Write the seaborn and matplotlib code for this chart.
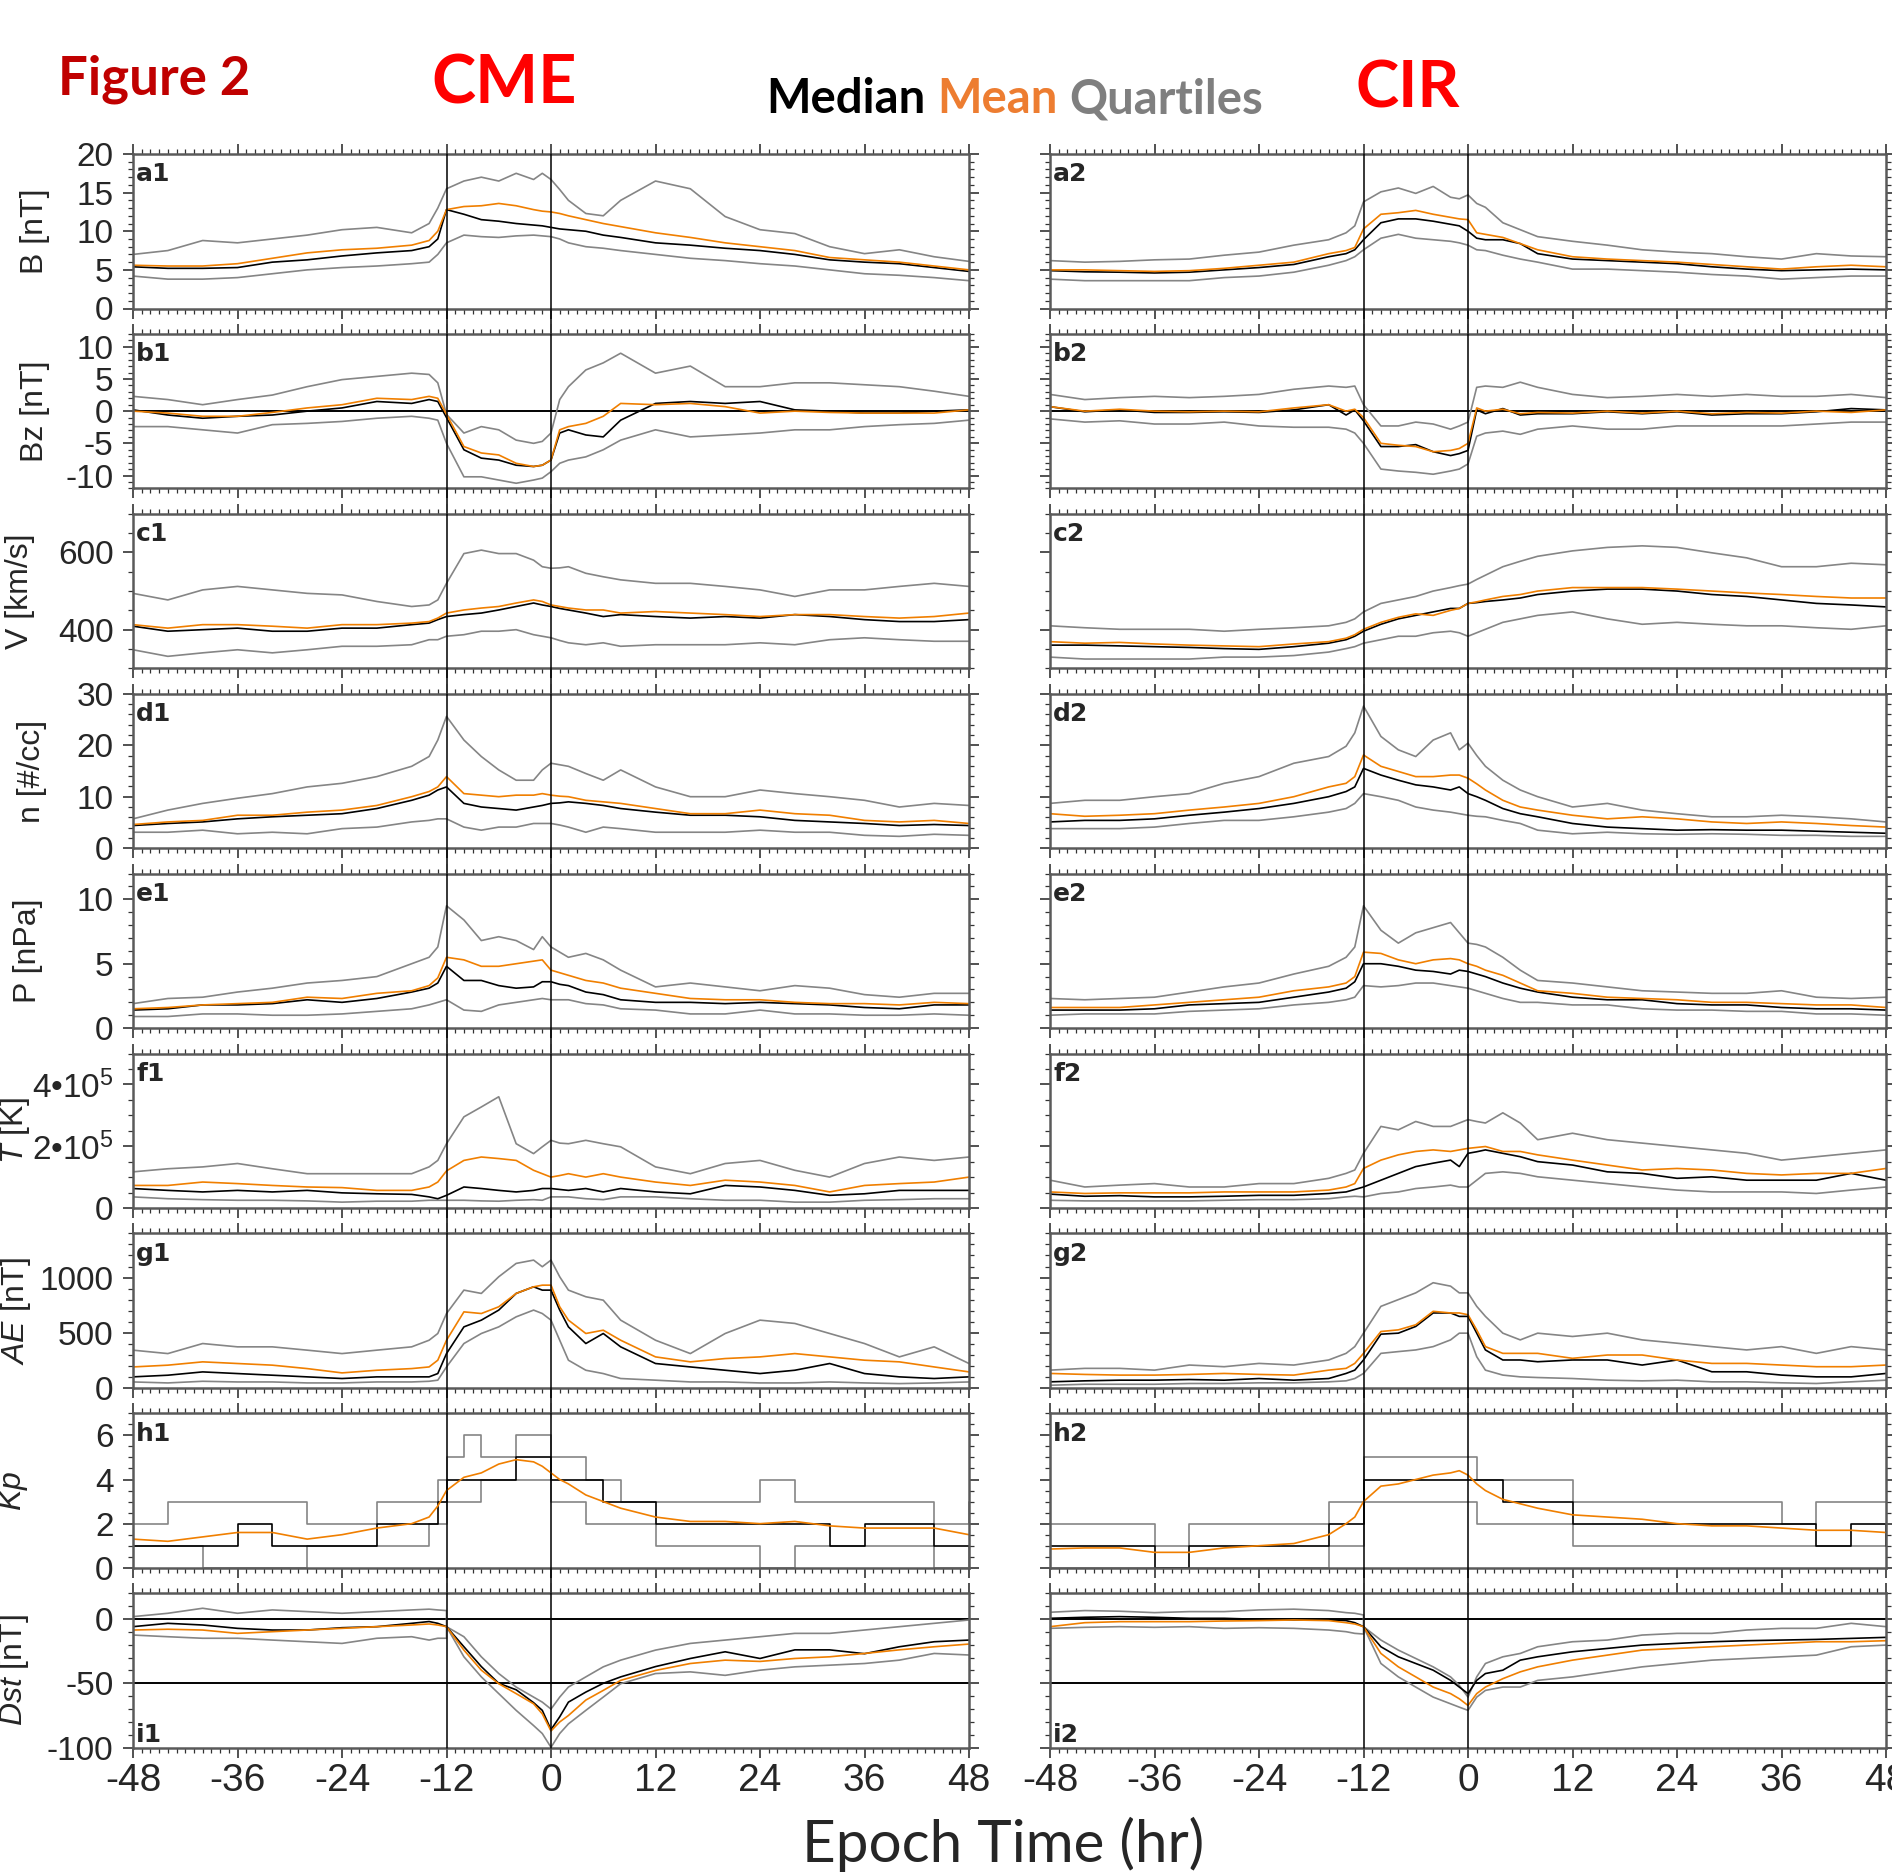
import numpy as np
import pandas as pd
import matplotlib
matplotlib.use("Agg")
import matplotlib.pyplot as plt
from matplotlib.ticker import MultipleLocator
import seaborn as sns

# epoch hours (Dst has -12 twice: quartiles restart at the shock)
hours = [-48, -44, -40, -36, -32, -28, -24, -20, -16, -14, -13, -12, -10, -8, -6, -4, -2, -1,
         0, 1, 2, 4, 6, 8, 12, 16, 20, 24, 28, 32, 36, 40, 44, 48]
hours_dst = [-48, -44, -40, -36, -32, -28, -24, -20, -16, -14, -13, -12, -12, -10, -8, -6, -4, -2, -1,
             0, 1, 2, 4, 6, 8, 12, 16, 20, 24, 28, 32, 36, 40, 44, 48]

# ---- CME column ----
b_cme_med = [5.4, 5.2, 5.2, 5.3, 6.0, 6.3, 6.8, 7.2, 7.5, 8.0, 9.0, 12.8, 12.2, 11.5, 11.3, 11.0, 10.8, 10.7,
             10.5, 10.3, 10.2, 10.0, 9.5, 9.2, 8.5, 8.2, 7.8, 7.5, 7.0, 6.3, 6.0, 5.8, 5.3, 4.8]
b_cme_mean = [5.6, 5.5, 5.5, 5.8, 6.5, 7.2, 7.6, 7.8, 8.2, 8.8, 10.0, 12.8, 13.2, 13.3, 13.6, 13.3, 12.8, 12.6,
              12.5, 12.3, 12.0, 11.5, 11.0, 10.6, 9.8, 9.2, 8.5, 8.0, 7.5, 6.6, 6.3, 6.0, 5.5, 5.0]
b_cme_uq = [7.0, 7.5, 8.8, 8.5, 9.0, 9.5, 10.2, 10.5, 9.8, 11.0, 13.0, 15.5, 16.5, 17.0, 16.5, 17.5, 16.7, 17.5,
            16.7, 15.4, 14.0, 12.3, 12.0, 14.0, 16.5, 15.5, 11.9, 10.2, 9.7, 8.0, 7.1, 7.6, 6.7, 6.1]
b_cme_lq = [4.2, 3.8, 3.8, 4.0, 4.5, 5.0, 5.3, 5.5, 5.8, 6.0, 7.0, 8.5, 9.5, 9.3, 9.2, 9.4, 9.5, 9.4,
            9.3, 9.0, 8.5, 8.0, 7.8, 7.5, 7.0, 6.5, 6.2, 5.8, 5.5, 5.0, 4.5, 4.3, 4.0, 3.6]

bz_cme_med = [0.2, -0.6, -1.1, -0.8, -0.6, 0.0, 0.5, 1.5, 1.2, 1.8, 1.5, -1.0, -6.0, -7.3, -7.6, -8.4, -8.6, -8.4,
              -7.6, -3.4, -2.9, -3.7, -4.0, -1.4, 1.2, 1.5, 1.2, 1.5, 0.2, 0.0, -0.3, -0.3, 0.0, 0.2]
bz_cme_mean = [0.0, -0.3, -0.8, -0.8, -0.2, 0.5, 1.0, 2.0, 1.8, 2.3, 2.0, -0.5, -5.5, -6.5, -6.8, -8.1, -8.6, -8.4,
               -7.6, -2.9, -2.4, -1.9, -0.8, 1.2, 1.0, 1.2, 0.7, -0.3, 0.0, -0.2, -0.3, -0.3, -0.3, 0.2]
bz_cme_uq = [2.3, 1.8, 1.0, 1.8, 2.5, 3.8, 4.9, 5.4, 5.9, 5.7, 4.4, -0.5, -3.4, -2.4, -2.9, -4.5, -5.0, -4.7,
             -3.4, 1.8, 3.8, 6.4, 7.5, 9.0, 5.9, 7.0, 3.8, 3.8, 4.4, 4.4, 4.1, 3.8, 3.1, 2.3]
bz_cme_lq = [-2.4, -2.4, -2.9, -3.4, -2.1, -1.9, -1.6, -1.1, -0.8, -1.1, -1.4, -5.0, -10.2, -10.2, -10.7, -11.2, -10.7, -10.4,
             -9.4, -8.1, -7.6, -7.1, -6.0, -4.5, -2.9, -4.0, -3.7, -3.4, -2.9, -2.9, -2.4, -2.1, -1.9, -1.4]

v_cme_med = [409, 396, 400, 404, 396, 396, 404, 404, 413, 417, 426, 434, 439, 443, 451, 460, 469, 464,
             460, 455, 451, 443, 434, 439, 434, 430, 434, 430, 439, 434, 426, 421, 421, 426]
v_cme_mean = [413, 404, 413, 413, 409, 404, 413, 413, 417, 421, 430, 443, 451, 456, 460, 469, 477, 473,
              464, 460, 456, 451, 451, 443, 447, 443, 439, 434, 439, 439, 434, 430, 434, 443]
v_cme_uq = [494, 477, 503, 512, 503, 494, 490, 473, 460, 464, 477, 520, 597, 606, 597, 597, 580, 563,
            559, 560, 563, 546, 537, 529, 520, 520, 512, 503, 486, 503, 503, 512, 520, 512]
v_cme_lq = [348, 331, 340, 348, 340, 348, 357, 357, 361, 374, 374, 383, 387, 396, 396, 400, 387, 383,
            379, 372, 366, 361, 366, 357, 361, 361, 361, 366, 361, 374, 379, 374, 370, 370]

n_cme_med = [4.4, 4.8, 5.1, 5.7, 6.1, 6.4, 6.7, 7.7, 9.3, 10.3, 11.3, 11.9, 8.7, 8.0, 7.7, 7.4, 8.0, 8.3,
             8.7, 8.8, 9.0, 8.7, 8.3, 7.7, 7.0, 6.4, 6.4, 6.1, 5.4, 5.1, 4.8, 4.4, 4.6, 4.4]
n_cme_mean = [4.6, 5.1, 5.4, 6.4, 6.4, 7.0, 7.4, 8.3, 10.0, 11.0, 11.9, 13.9, 10.6, 10.3, 10.0, 10.3, 10.3, 10.6,
              10.3, 10.1, 10.0, 9.3, 9.0, 8.7, 7.7, 6.7, 6.7, 7.4, 6.7, 6.4, 5.4, 5.1, 5.4, 4.8]
n_cme_uq = [5.7, 7.4, 8.7, 9.7, 10.6, 11.9, 12.6, 13.9, 15.9, 17.8, 21.0, 25.6, 21.0, 17.8, 15.2, 13.2, 13.2, 15.2,
            16.5, 16.2, 15.9, 14.5, 13.2, 15.2, 11.9, 10.0, 10.0, 11.3, 10.6, 10.0, 9.3, 8.0, 8.7, 8.3]
n_cme_lq = [3.1, 3.1, 3.5, 2.8, 3.1, 2.8, 3.8, 4.1, 5.1, 5.4, 5.7, 5.7, 4.1, 3.5, 4.1, 4.1, 4.8, 4.8,
            4.8, 4.5, 4.1, 3.1, 4.1, 3.8, 3.1, 3.1, 3.1, 3.5, 3.1, 3.1, 2.5, 2.3, 2.7, 2.5]

p_cme_med = [1.4, 1.5, 1.8, 1.8, 1.9, 2.2, 2.0, 2.3, 2.8, 3.1, 3.5, 4.8, 3.7, 3.7, 3.3, 3.1, 3.2, 3.6,
             3.6, 3.4, 3.3, 2.8, 2.6, 2.2, 2.0, 2.0, 1.9, 2.0, 1.9, 1.8, 1.6, 1.5, 1.8, 1.8]
p_cme_mean = [1.5, 1.6, 1.8, 1.9, 2.0, 2.4, 2.3, 2.7, 2.9, 3.3, 3.9, 5.5, 5.3, 4.8, 4.8, 5.0, 5.2, 5.3,
              4.5, 4.3, 4.1, 3.7, 3.5, 3.1, 2.7, 2.3, 2.2, 2.2, 2.0, 1.9, 1.9, 1.8, 2.0, 1.9]
p_cme_uq = [1.9, 2.3, 2.4, 2.8, 3.1, 3.5, 3.7, 4.0, 5.0, 5.5, 6.3, 9.5, 8.4, 6.8, 7.1, 6.8, 6.1, 7.1,
            6.3, 5.9, 5.5, 5.8, 5.3, 4.5, 3.2, 3.5, 3.2, 2.9, 3.3, 3.1, 2.6, 2.4, 2.7, 2.7]
p_cme_lq = [0.9, 0.9, 1.1, 1.1, 1.0, 1.0, 1.1, 1.3, 1.5, 1.8, 2.0, 2.2, 1.4, 1.3, 1.8, 2.0, 2.2, 2.3,
            2.2, 2.2, 2.2, 1.9, 1.8, 1.5, 1.4, 1.1, 1.1, 1.4, 1.1, 1.1, 1.0, 1.0, 1.1, 1.0]

# temperature in units of 1e5 K
t_cme_med = [0.63, 0.57, 0.52, 0.57, 0.52, 0.57, 0.49, 0.46, 0.44, 0.36, 0.30, 0.41, 0.68, 0.63, 0.57, 0.52, 0.57, 0.63,
             0.63, 0.60, 0.57, 0.63, 0.52, 0.63, 0.52, 0.46, 0.73, 0.68, 0.57, 0.41, 0.46, 0.57, 0.57, 0.57]
t_cme_mean = [0.73, 0.73, 0.84, 0.79, 0.73, 0.68, 0.66, 0.57, 0.57, 0.68, 0.84, 1.20, 1.54, 1.65, 1.60, 1.54, 1.22, 1.11,
              1.00, 1.05, 1.11, 1.00, 1.11, 1.00, 0.84, 0.73, 0.90, 0.84, 0.73, 0.52, 0.73, 0.79, 0.84, 1.00]
t_cme_uq = [1.17, 1.27, 1.33, 1.44, 1.27, 1.11, 1.11, 1.11, 1.11, 1.33, 1.54, 2.08, 2.95, 3.27, 3.60, 2.08, 1.76, 1.98,
            2.19, 2.10, 2.08, 2.19, 2.08, 1.98, 1.33, 1.11, 1.44, 1.54, 1.22, 1.00, 1.44, 1.65, 1.54, 1.65]
t_cme_lq = [0.36, 0.30, 0.27, 0.25, 0.25, 0.23, 0.19, 0.22, 0.22, 0.25, 0.25, 0.25, 0.25, 0.23, 0.22, 0.25, 0.27, 0.25,
            0.36, 0.36, 0.36, 0.30, 0.27, 0.36, 0.36, 0.30, 0.25, 0.25, 0.19, 0.19, 0.25, 0.27, 0.30, 0.30]

ae_cme_med = [100, 115, 145, 130, 115, 100, 85, 100, 100, 100, 130, 311, 553, 614, 705, 856, 916, 886,
              886, 705, 553, 402, 493, 372, 221, 190, 160, 130, 160, 221, 130, 100, 85, 100]
ae_cme_mean = [190, 206, 236, 221, 206, 175, 136, 160, 175, 190, 251, 432, 689, 674, 735, 856, 916, 931,
               931, 735, 614, 493, 523, 432, 281, 236, 266, 281, 311, 281, 251, 236, 190, 145]
ae_cme_uq = [342, 311, 402, 372, 372, 342, 311, 342, 372, 432, 493, 674, 886, 856, 1007, 1128, 1158, 1098,
             1158, 1007, 886, 826, 795, 614, 432, 311, 493, 614, 584, 493, 402, 281, 372, 221]
ae_cme_lq = [54, 45, 60, 54, 54, 45, 45, 54, 54, 60, 70, 190, 402, 493, 553, 644, 705, 674,
             614, 432, 251, 160, 130, 85, 70, 54, 54, 45, 45, 54, 45, 39, 45, 54]

kp_cme_med = [1, 1, 1, 2, 1, 1, 1, 2, 2, 2, 3, 4, 4, 4, 4, 5, 5, 5, 4, 4, 4, 4, 3, 3, 2, 2, 2, 2, 2, 1, 2, 2, 1, 1]
kp_cme_mean = [1.3, 1.2, 1.4, 1.6, 1.6, 1.3, 1.5, 1.8, 2.0, 2.3, 2.8, 3.5, 4.1, 4.3, 4.7, 4.9, 4.8, 4.6,
               4.3, 4.0, 3.8, 3.3, 3.0, 2.7, 2.3, 2.1, 2.1, 2.0, 2.1, 1.9, 1.8, 1.8, 1.8, 1.5]
kp_cme_uq = [2, 3, 3, 3, 3, 2, 2, 3, 3, 3, 4, 5, 6, 5, 5, 6, 6, 6, 5, 5, 5, 4, 4, 3, 3, 3, 3, 4, 3, 3, 3, 3, 2, 3]
kp_cme_lq = [1, 1, 0, 0, 0, 1, 1, 1, 1, 2, 2, 3, 3, 4, 4, 4, 4, 4, 3, 3, 3, 2, 2, 2, 1, 1, 1, 0, 1, 1, 1, 1, 0, 1]

dst_cme_med = [-6, -3.4, -4.7, -7.3, -8.6, -8.6, -6.8, -6, -3.4, -2, -3.4, -6, -6, -21.6, -37, -50, -55, -65, -71,
               -86, -76, -64.6, -56.8, -50, -45, -37, -30.7, -25.5, -30.7, -24, -24, -27, -21.6, -17.7, -16.4]
dst_cme_mean = [-8.6, -8, -8.6, -11.2, -9.9, -8.6, -7.3, -6, -4.7, -3.9, -4.7, -6, -6, -24.2, -39.8, -50.3, -58, -65.9, -73.7,
                -87, -80, -75, -63, -55.5, -47.7, -40, -34.6, -32, -33, -30.7, -29.4, -26.8, -24, -21.6, -19.5]
dst_cme_uq = [1.8, 4.4, 8.3, 4.4, 7, 5.7, 4.4, 5.7, 7, 7.6, 7, 6.5, -6, -13.8, -29.4, -42.4, -52.9, -60.7, -64.6,
              -70, -60.7, -52.9, -45, -37.2, -32, -24.2, -19, -16.4, -13.8, -11.2, -11.2, -8.6, -6, -3.4, -0.8]
dst_cme_lq = [-12.5, -13.8, -15, -15, -16.4, -17.7, -19, -15, -13.8, -16.4, -15, -15, -6, -29.4, -45, -58, -71, -82.8, -89,
              -99.7, -89, -81.5, -71, -60.7, -50.3, -42.4, -41.1, -43.8, -39.8, -37.2, -35.9, -34.6, -32, -26.8, -28]

# ---- CIR column ----
b_cir_med = [4.9, 4.75, 4.7, 4.6, 4.7, 5.0, 5.3, 5.7, 6.7, 7.1, 7.6, 8.9, 11.1, 11.6, 11.6, 11.3, 10.9, 10.7,
             10.0, 9.1, 8.9, 8.9, 8.4, 7.1, 6.4, 6.2, 6.0, 5.8, 5.4, 5.1, 4.9, 5.0, 5.1, 5.0]
b_cir_mean = [5.0, 5.0, 4.9, 4.8, 4.9, 5.2, 5.6, 6.0, 7.1, 7.5, 7.9, 10.3, 12.2, 12.4, 12.7, 12.2, 11.8, 11.6,
              11.5, 9.8, 9.6, 9.2, 8.4, 7.6, 6.7, 6.4, 6.2, 6.0, 5.7, 5.4, 5.1, 5.4, 5.6, 5.4]
b_cir_uq = [6.2, 6.0, 6.1, 6.3, 6.4, 6.9, 7.3, 8.2, 8.9, 9.8, 10.7, 13.8, 15.1, 15.6, 14.9, 15.8, 14.4, 14.2,
            14.7, 13.6, 13.1, 11.1, 10.2, 9.3, 8.7, 8.2, 7.6, 7.3, 7.1, 6.7, 6.4, 7.1, 6.8, 6.7]
b_cir_lq = [3.8, 3.6, 3.6, 3.6, 3.6, 4.0, 4.2, 4.7, 5.6, 6.2, 6.7, 7.6, 9.1, 9.6, 9.1, 8.9, 8.7, 8.5,
            8.2, 7.6, 7.5, 6.9, 6.4, 6.0, 5.1, 5.1, 4.9, 4.7, 4.4, 4.2, 3.8, 4.0, 4.2, 4.2]

bz_cir_med = [0.7, -0.1, 0.2, -0.2, -0.2, -0.1, -0.2, 0.2, 1.0, -0.6, 0.2, -1.5, -5.5, -5.5, -5.2, -6.3, -6.9, -6.6,
              -6.1, 0.2, -0.4, 0.4, -0.6, -0.4, -0.4, -0.1, -0.4, -0.1, -0.6, -0.4, -0.4, -0.1, 0.4, 0.2]
bz_cir_mean = [0.7, 0.0, 0.3, 0.0, -0.1, 0.0, -0.1, 0.5, 1.0, 0.0, 0.3, -1.0, -5.0, -5.3, -5.5, -6.3, -6.1, -5.8,
               -5.0, 0.5, 0.0, 0.3, -0.4, -0.2, -0.3, 0.0, -0.3, 0.0, -0.4, -0.2, -0.3, 0.0, -0.2, 0.2]
bz_cir_uq = [2.6, 1.8, 2.1, 2.3, 2.1, 2.3, 2.6, 3.4, 3.9, 3.7, 3.9, 1.0, -2.3, -2.3, -1.7, -2.0, -2.8, -2.3,
             -1.7, 3.7, 3.9, 3.7, 4.5, 3.7, 2.6, 2.1, 2.3, 2.6, 2.3, 2.6, 2.3, 2.3, 2.6, 2.1]
bz_cir_lq = [-1.2, -1.7, -1.5, -2.0, -2.0, -1.7, -2.3, -2.5, -2.5, -2.8, -3.4, -5.0, -9.0, -9.3, -9.5, -9.8, -9.3, -9.0,
             -8.2, -3.9, -3.4, -3.1, -3.6, -2.8, -2.3, -2.8, -2.8, -2.3, -2.3, -2.3, -2.3, -2.0, -1.7, -1.7]

v_cir_med = [360, 360, 358, 356, 354, 351, 349, 356, 365, 374, 383, 396, 414, 428, 437, 446, 455, 455,
             468, 470, 473, 477, 482, 491, 500, 505, 505, 500, 491, 486, 477, 468, 464, 459]
v_cir_mean = [369, 365, 367, 363, 360, 358, 356, 363, 369, 378, 387, 401, 419, 432, 441, 437, 450, 455,
              468, 472, 477, 486, 491, 500, 509, 509, 509, 505, 500, 495, 491, 486, 482, 482]
v_cir_uq = [410, 405, 401, 401, 401, 396, 401, 405, 410, 419, 428, 446, 468, 477, 486, 500, 509, 514,
            518, 530, 541, 563, 577, 590, 604, 613, 617, 613, 599, 586, 563, 563, 572, 568]
v_cir_lq = [329, 324, 324, 324, 324, 329, 329, 333, 342, 351, 356, 365, 374, 383, 383, 392, 396, 392,
            383, 392, 401, 419, 428, 437, 446, 428, 414, 419, 414, 410, 410, 405, 401, 410]

n_cir_med = [5.1, 5.4, 5.4, 5.7, 6.4, 7.0, 7.7, 8.7, 10.0, 11.0, 11.9, 15.5, 14.2, 13.2, 12.3, 11.9, 11.3, 11.9,
             10.6, 10.0, 9.3, 7.7, 6.7, 6.1, 4.8, 4.1, 3.8, 3.5, 3.6, 3.5, 3.5, 3.3, 3.1, 2.9]
n_cir_mean = [6.7, 6.2, 6.4, 6.7, 7.4, 8.0, 8.7, 10.0, 11.9, 12.6, 13.9, 18.1, 15.9, 14.9, 13.9, 13.9, 14.2, 14.2,
              13.6, 12.5, 11.3, 9.3, 8.0, 7.4, 6.4, 5.7, 6.1, 5.7, 5.1, 4.8, 5.1, 4.8, 4.4, 4.1]
n_cir_uq = [8.7, 9.3, 9.3, 10.0, 10.6, 12.6, 13.9, 16.5, 17.8, 19.8, 22.4, 27.6, 21.7, 19.1, 17.8, 21.0, 22.4, 19.1,
            20.4, 18.0, 15.9, 13.2, 11.3, 10.0, 8.0, 8.7, 7.4, 6.7, 6.1, 6.1, 6.4, 6.1, 5.7, 5.1]
n_cir_lq = [3.8, 3.8, 3.8, 4.1, 4.8, 5.4, 5.4, 6.1, 7.0, 7.7, 8.7, 10.6, 10.0, 9.3, 8.0, 7.4, 7.0, 6.7,
            6.4, 6.2, 6.1, 5.4, 4.8, 3.5, 2.8, 3.1, 2.8, 2.7, 2.8, 2.7, 2.5, 2.5, 2.3, 2.3]

p_cir_med = [1.4, 1.4, 1.4, 1.5, 1.8, 1.9, 2.0, 2.4, 2.8, 3.1, 3.6, 5.0, 5.0, 4.8, 4.5, 4.4, 4.2, 4.5,
             4.4, 4.2, 4.0, 3.5, 3.1, 2.8, 2.4, 2.2, 2.2, 1.9, 1.8, 1.8, 1.6, 1.5, 1.5, 1.4]
p_cir_mean = [1.6, 1.6, 1.6, 1.8, 2.0, 2.2, 2.4, 2.9, 3.2, 3.5, 4.0, 5.9, 5.8, 5.3, 5.0, 5.3, 5.4, 5.3,
              5.0, 4.8, 4.5, 4.1, 3.5, 2.9, 2.7, 2.4, 2.3, 2.2, 2.0, 2.0, 1.9, 1.8, 1.8, 1.6]
p_cir_uq = [2.3, 2.2, 2.3, 2.4, 2.8, 3.2, 3.5, 4.2, 4.8, 5.5, 6.3, 9.5, 7.6, 6.6, 7.4, 7.8, 8.2, 7.4,
            6.6, 6.5, 6.3, 5.5, 4.5, 3.7, 3.5, 3.2, 2.9, 2.8, 2.7, 2.7, 2.9, 2.4, 2.3, 2.4]
p_cir_lq = [1.0, 1.1, 1.1, 1.1, 1.3, 1.4, 1.5, 1.8, 2.0, 2.2, 2.4, 3.3, 3.2, 3.3, 3.5, 3.5, 3.3, 3.2,
            3.1, 2.9, 2.7, 2.3, 2.0, 2.0, 1.8, 1.8, 1.5, 1.4, 1.4, 1.3, 1.3, 1.1, 1.1, 1.0]

t_cir_med = [0.45, 0.38, 0.40, 0.36, 0.36, 0.38, 0.41, 0.41, 0.47, 0.52, 0.60, 0.68, 0.90, 1.12, 1.34, 1.45, 1.55, 1.34,
             1.77, 1.82, 1.88, 1.77, 1.66, 1.50, 1.39, 1.17, 1.12, 0.96, 1.01, 0.90, 0.90, 0.90, 1.12, 0.90]
t_cir_mean = [0.52, 0.47, 0.49, 0.49, 0.49, 0.52, 0.52, 0.52, 0.58, 0.68, 0.79, 1.28, 1.55, 1.72, 1.83, 1.88, 1.83, 1.88,
              1.93, 1.96, 1.99, 1.83, 1.83, 1.72, 1.55, 1.39, 1.23, 1.28, 1.23, 1.12, 1.07, 1.12, 1.12, 1.28]
t_cir_uq = [0.90, 0.68, 0.74, 0.79, 0.68, 0.68, 0.79, 0.79, 0.96, 1.12, 1.23, 1.77, 2.64, 2.53, 2.80, 2.64, 2.64, 2.75,
            2.86, 2.80, 2.75, 3.08, 2.75, 2.21, 2.42, 2.21, 2.10, 1.99, 1.88, 1.77, 1.55, 1.66, 1.77, 1.88]
t_cir_lq = [0.25, 0.23, 0.23, 0.23, 0.23, 0.25, 0.27, 0.27, 0.30, 0.36, 0.38, 0.36, 0.47, 0.52, 0.63, 0.68, 0.74, 0.68,
            0.68, 0.90, 1.12, 1.17, 1.12, 1.01, 0.90, 0.79, 0.68, 0.58, 0.52, 0.52, 0.52, 0.47, 0.58, 0.68]

ae_cir_med = [55, 64, 70, 70, 76, 70, 85, 70, 85, 131, 161, 253, 487, 496, 557, 679, 679, 648,
              648, 496, 344, 253, 253, 237, 253, 253, 207, 253, 146, 146, 116, 100, 100, 131]
ae_cir_mean = [131, 122, 116, 116, 122, 131, 122, 116, 161, 177, 222, 313, 511, 526, 572, 694, 679, 679,
               663, 526, 374, 313, 313, 313, 268, 298, 298, 253, 222, 222, 207, 192, 192, 207]
ae_cir_uq = [161, 177, 177, 161, 207, 192, 222, 207, 253, 313, 374, 496, 739, 800, 861, 953, 922, 861,
             861, 739, 648, 496, 435, 496, 466, 496, 435, 405, 374, 344, 374, 313, 374, 344]
ae_cir_lq = [24, 33, 33, 33, 40, 40, 46, 46, 55, 64, 85, 131, 313, 329, 344, 374, 435, 496,
             496, 283, 161, 116, 100, 94, 85, 70, 64, 70, 55, 55, 46, 40, 55, 70]

kp_cir_med = [1, 1, 1, 0, 1, 1, 1, 1, 2, 2, 2, 4, 4, 4, 4, 4, 4, 4, 4, 4, 4, 3, 3, 3, 2, 2, 2, 2, 2, 2, 2, 1, 2, 1]
kp_cir_mean = [0.85, 0.9, 0.9, 0.7, 0.7, 0.9, 1.0, 1.1, 1.5, 2.0, 2.3, 3.0, 3.7, 3.8, 4.0, 4.2, 4.3, 4.4,
               4.2, 3.8, 3.5, 3.1, 2.9, 2.7, 2.4, 2.3, 2.2, 2.0, 1.9, 1.9, 1.8, 1.7, 1.7, 1.6]
kp_cir_uq = [2, 2, 2, 1, 2, 2, 2, 2, 3, 3, 3, 5, 5, 5, 5, 5, 5, 5, 5, 4, 4, 4, 4, 4, 3, 3, 3, 3, 3, 3, 2, 3, 3, 3]
kp_cir_lq = [0, 0, 0, 0, 0, 0, 0, 0, 1, 1, 1, 3, 3, 3, 3, 3, 3, 3, 3, 2, 2, 2, 2, 2, 1, 1, 1, 1, 1, 1, 1, 1, 1, 1]

dst_cir_med = [0.5, 1.3, 1.8, 1.3, 0.5, 0.5, -0.3, -0.8, -0.8, -1.3, -2.9, -6, -6, -21.6, -29.4, -34.6, -39.8, -47.7, -52.9,
               -58, -47.7, -42.4, -39.8, -32, -29.4, -25.5, -22.9, -20.3, -19, -17.7, -16.9, -16.4, -15.9, -15.1, -14.3]
dst_cir_mean = [-6, -2.9, -2.1, -2.1, -2.1, -1.6, -1.3, -0.8, -1.3, -2.9, -3.9, -6, -6, -26.8, -37.2, -45, -52.9, -58, -62,
                -67.2, -58, -52.9, -46.4, -41.1, -37.2, -32, -28.1, -24.2, -22.9, -21.6, -20.3, -19, -17.7, -17.7, -16.9]
dst_cir_uq = [5.2, 6.5, 6, 4.9, 5.7, 5.7, 7, 7.6, 6.5, 4.9, 4.4, 3.1, -6, -16.4, -24.2, -30.7, -37.2, -45, -51.6,
              -60.7, -45, -34.6, -29.4, -26.8, -21.6, -17.7, -16.4, -12.5, -11.2, -11.2, -8.6, -7.3, -7.3, -3.4, -6]
dst_cir_lq = [-7.3, -6.5, -6, -6.5, -6, -7.3, -6.8, -7.3, -8.6, -9.9, -11.2, -11.7, -6, -34.6, -45, -52.9, -60.7, -65.9, -68.5,
              -71, -60.7, -55.5, -52.9, -52.9, -47.7, -45, -41.1, -37.2, -34.6, -32, -30.7, -29.4, -28.1, -21.6, -20.3]

# ---- styling ----
C_MED = "black"
C_MEAN = "#f07f00"
C_Q = "#858585"

sns.set_style("ticks")
plt.rcParams["font.family"] = ["Liberation Sans", "DejaVu Sans"]
plt.rcParams["axes.unicode_minus"] = False
plt.rcParams["mathtext.fontset"] = "custom"
plt.rcParams["mathtext.rm"] = "Liberation Sans"
plt.rcParams["mathtext.it"] = "Liberation Sans:italic"
plt.rcParams["mathtext.bf"] = "Liberation Sans:bold"

W, H = 1892, 1873
fig = plt.figure(figsize=(W / 100, H / 100), dpi=100)

col_x = [133, 1050]
col_w = 836
row_top0 = 154
row_pitch = 179.9
row_h = 154.5
gap_frac = (row_pitch - row_h) / row_h

# (name, ylabel, label x px, ylim, ticks, ticklabels, minor step, scale, steps)
panels = [
    ("a", "B [nT]", 35, (0, 20), [0, 5, 10, 15, 20], None, 1, 1, False),
    ("b", "Bz [nT]", 35, (-12, 12), [-10, -5, 0, 5, 10], None, 1, 1, False),
    ("c", "V [km/s]", 20, (300, 700), [400, 600], None, 50, 1, False),
    ("d", "n [#/cc]", 32, (0, 30), [0, 10, 20, 30], None, 2, 1, False),
    ("e", "P [nPa]", 28, (0, 12), [0, 5, 10], None, 1, 1, False),
    ("f", "$T$ [K]", 15, (0, 5e5), [0, 2e5, 4e5], ["0", "2•10$^5$", "4•10$^5$"], 0.5e5, 1e5, False),
    ("g", "$AE$ [nT]", 16, (0, 1400), [0, 500, 1000], None, 100, 1, False),
    ("h", "$Kp$", 14, (0, 7), [0, 2, 4, 6], None, 0.5, 1, True),
    ("i", "$Dst$ [nT]", 14, (-100, 20), [-100, -50, 0], None, 10, 1, False),
]

series = {
    ("a", 0): (b_cme_med, b_cme_mean, b_cme_uq, b_cme_lq),
    ("b", 0): (bz_cme_med, bz_cme_mean, bz_cme_uq, bz_cme_lq),
    ("c", 0): (v_cme_med, v_cme_mean, v_cme_uq, v_cme_lq),
    ("d", 0): (n_cme_med, n_cme_mean, n_cme_uq, n_cme_lq),
    ("e", 0): (p_cme_med, p_cme_mean, p_cme_uq, p_cme_lq),
    ("f", 0): (t_cme_med, t_cme_mean, t_cme_uq, t_cme_lq),
    ("g", 0): (ae_cme_med, ae_cme_mean, ae_cme_uq, ae_cme_lq),
    ("h", 0): (kp_cme_med, kp_cme_mean, kp_cme_uq, kp_cme_lq),
    ("i", 0): (dst_cme_med, dst_cme_mean, dst_cme_uq, dst_cme_lq),
    ("a", 1): (b_cir_med, b_cir_mean, b_cir_uq, b_cir_lq),
    ("b", 1): (bz_cir_med, bz_cir_mean, bz_cir_uq, bz_cir_lq),
    ("c", 1): (v_cir_med, v_cir_mean, v_cir_uq, v_cir_lq),
    ("d", 1): (n_cir_med, n_cir_mean, n_cir_uq, n_cir_lq),
    ("e", 1): (p_cir_med, p_cir_mean, p_cir_uq, p_cir_lq),
    ("f", 1): (t_cir_med, t_cir_mean, t_cir_uq, t_cir_lq),
    ("g", 1): (ae_cir_med, ae_cir_mean, ae_cir_uq, ae_cir_lq),
    ("h", 1): (kp_cir_med, kp_cir_mean, kp_cir_uq, kp_cir_lq),
    ("i", 1): (dst_cir_med, dst_cir_mean, dst_cir_uq, dst_cir_lq),
}

for r, (key, ylab, lab_x, ylim, yt, ytl, minor, scale, steps) in enumerate(panels):
    top = row_top0 + r * row_pitch
    for c in range(2):
        ax = fig.add_axes([col_x[c] / W, 1 - (top + row_h) / H, col_w / W, row_h / H])
        med, mean, uq, lq = series[(key, c)]
        xs = hours_dst if key == "i" else hours
        ds = "steps-post" if steps else "default"
        for vals, col, dstyle in [(uq, C_Q, ds), (lq, C_Q, ds), (med, C_MED, ds), (mean, C_MEAN, "default")]:
            sns.lineplot(x=xs, y=np.array(vals) * scale, ax=ax, color=col, lw=1.2,
                         estimator=None, sort=False, legend=False, drawstyle=dstyle)

        if key == "b":
            ax.axhline(0, color="black", lw=1.4, zorder=1)
        if key == "i":
            ax.axhline(0, color="black", lw=1.4, zorder=1)
            ax.axhline(-50, color="black", lw=1.4, zorder=1)
        ymin_line = 0 if key == "i" else -gap_frac
        for xv in (-12, 0):
            ax.axvline(xv, ymin=ymin_line, ymax=1, color="black", lw=1.1, clip_on=False, zorder=3)

        ax.set_xlim(-48, 48)
        ax.set_ylim(*ylim)
        ax.set_xticks([-48, -36, -24, -12, 0, 12, 24, 36, 48])
        ax.xaxis.set_minor_locator(MultipleLocator(1))
        ax.set_yticks(yt)
        ax.yaxis.set_minor_locator(MultipleLocator(minor))
        ax.set_xlabel("")
        ax.set_ylabel("")
        for sp in ax.spines.values():
            sp.set_color("#5a5a5a")
            sp.set_linewidth(1.8)
        ax.tick_params(which="major", direction="out", length=7, width=1.2, color="#333333")
        ax.tick_params(which="minor", direction="out", length=3.5, width=0.9, color="#333333")
        ax.tick_params(axis="x", which="both", top=True, bottom=True,
                       labelbottom=(key == "i"), labelsize=28, pad=4)
        ax.tick_params(axis="y", which="both", left=True, right=True,
                       labelleft=(c == 0), labelsize=24, pad=7)

        if c == 0:
            if ytl is not None:
                ax.set_yticklabels(ytl)
            for tl in ax.get_yticklabels():
                tl.set_bbox(dict(facecolor="white", edgecolor="none", pad=1.0))
            fig.text(lab_x / W, 1 - (top + row_h / 2) / H, ylab, rotation=90, fontsize=23,
                     ha="center", va="center", zorder=-1)

        tag = key + str(c + 1)
        if key == "i":
            ax.text(0.004, 0.035, tag, transform=ax.transAxes, fontsize=18, fontweight="bold",
                    family="DejaVu Sans", ha="left", va="baseline", zorder=5)
        else:
            ax.text(0.004, 0.945, tag, transform=ax.transAxes, fontsize=18, fontweight="bold",
                    family="DejaVu Sans", ha="left", va="top", zorder=5)

# headers
hdr = dict(family=["Lato", "DejaVu Sans"], fontweight="bold", va="baseline", ha="left")
fig.text(58 / W, 1 - 95 / H, "Figure 2", fontsize=38, color="#c00000", **hdr)
fig.text(431 / W, 1 - 103 / H, "CME", fontsize=48, color="#ff0000", **hdr)
fig.text(766 / W, 1 - 113 / H, "Median", fontsize=34, color="black", **hdr)
fig.text(937 / W, 1 - 113 / H, "Mean", fontsize=34, color="#ed7d31", **hdr)
fig.text(1069 / W, 1 - 113 / H, "Quartiles", fontsize=34, color="#7f7f7f", **hdr)
fig.text(1355 / W, 1 - 108 / H, "CIR", fontsize=47, color="#ff0000", **hdr)

fig.text(1003 / W, 1 - 1862 / H, "Epoch Time (hr)", fontsize=42, family=["Lato", "DejaVu Sans"],
         ha="center", va="baseline")

fig.savefig("out.png", dpi=100)
